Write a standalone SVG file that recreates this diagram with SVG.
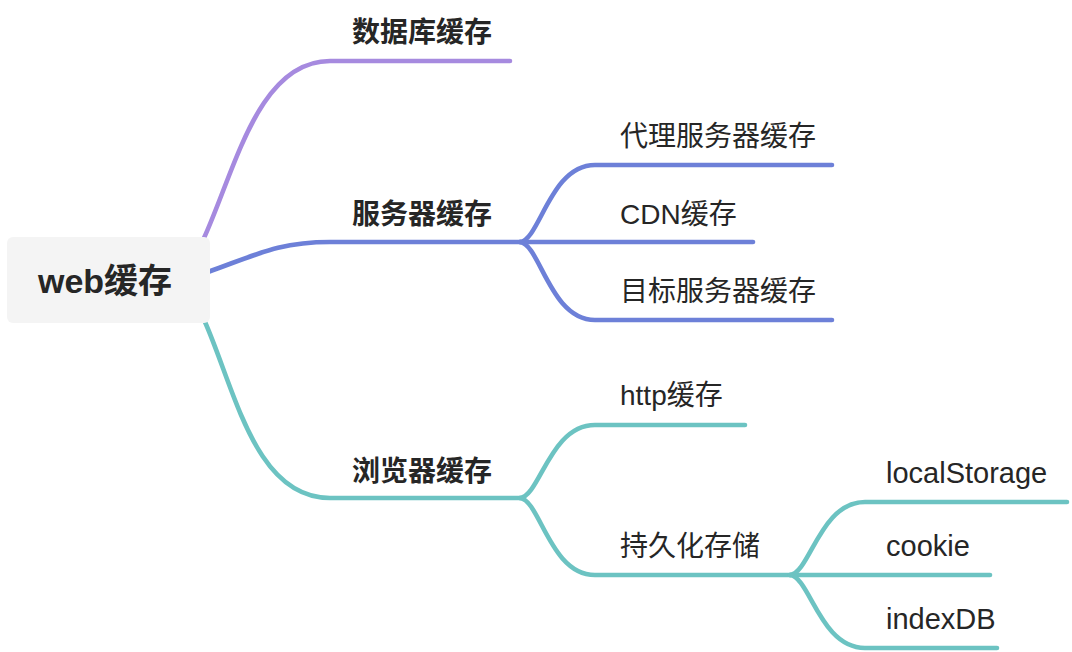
<svg xmlns="http://www.w3.org/2000/svg" width="1072" height="652" viewBox="0 0 1072 652">
<style>
  .c { fill: none; stroke-width: 4.6; stroke-linecap: round; stroke-linejoin: round; }
  .p { stroke: #a68adf; }
  .b { stroke: #6d80d8; }
  .t { stroke: #6cc3c2; }
  text { font-family: "Liberation Sans", "Noto Sans CJK SC", sans-serif; fill: #262626; }
  .root { font-size: 34px; font-weight: bold; }
  .l1 { font-size: 28px; font-weight: bold; }
  .l2 { font-size: 28px; }
  .lat { font-size: 29px; }
</style>
<rect width="1072" height="652" fill="#ffffff"/>
<g id="connectors">
  <path class="c p" d="M204 238 C235 170 258 61 330 61 H510"/>
  <path class="c b" d="M208 272 C258 254 280 242 330 242 H520"/>
  <path class="c t" d="M205 322 C235 390 255 498 330 498 H520"/>
  <path class="c b" d="M520 242 C540 240 550 165 595 165 H832"/>
  <path class="c b" d="M520 242 H753"/>
  <path class="c b" d="M520 242 C540 244 550 320 595 320 H832"/>
  <path class="c t" d="M520 498 C540 496 550 425 595 425 H745"/>
  <path class="c t" d="M520 498 C540 500 550 575 595 575 H790"/>
  <path class="c t" d="M790 575 C810 573 820 502 865 502 H1067"/>
  <path class="c t" d="M790 575 H990"/>
  <path class="c t" d="M790 575 C810 577 820 648 865 648 H997"/>
</g>
<g id="root">
  <rect x="7" y="237" width="203" height="86" rx="6" fill="#f4f4f4"/>
  <text class="root" x="38" y="293">web缓存</text>
</g>
<g id="n-db"><text class="l1" x="352" y="42">数据库缓存</text></g>
<g id="n-server"><text class="l1" x="352" y="224">服务器缓存</text></g>
<g id="n-browser"><text class="l1" x="352" y="481">浏览器缓存</text></g>
<g id="n-proxy"><text class="l2" x="620" y="146">代理服务器缓存</text></g>
<g id="n-cdn"><text class="l2" x="620" y="224">CDN缓存</text></g>
<g id="n-target"><text class="l2" x="620" y="301">目标服务器缓存</text></g>
<g id="n-http"><text class="l2" x="620" y="405">http缓存</text></g>
<g id="n-persist"><text class="l2" x="620" y="556">持久化存储</text></g>
<g id="n-local"><text class="l2 lat" x="886" y="483">localStorage</text></g>
<g id="n-cookie"><text class="l2 lat" x="886" y="556">cookie</text></g>
<g id="n-indexdb"><text class="l2 lat" x="886" y="629">indexDB</text></g>
</svg>
